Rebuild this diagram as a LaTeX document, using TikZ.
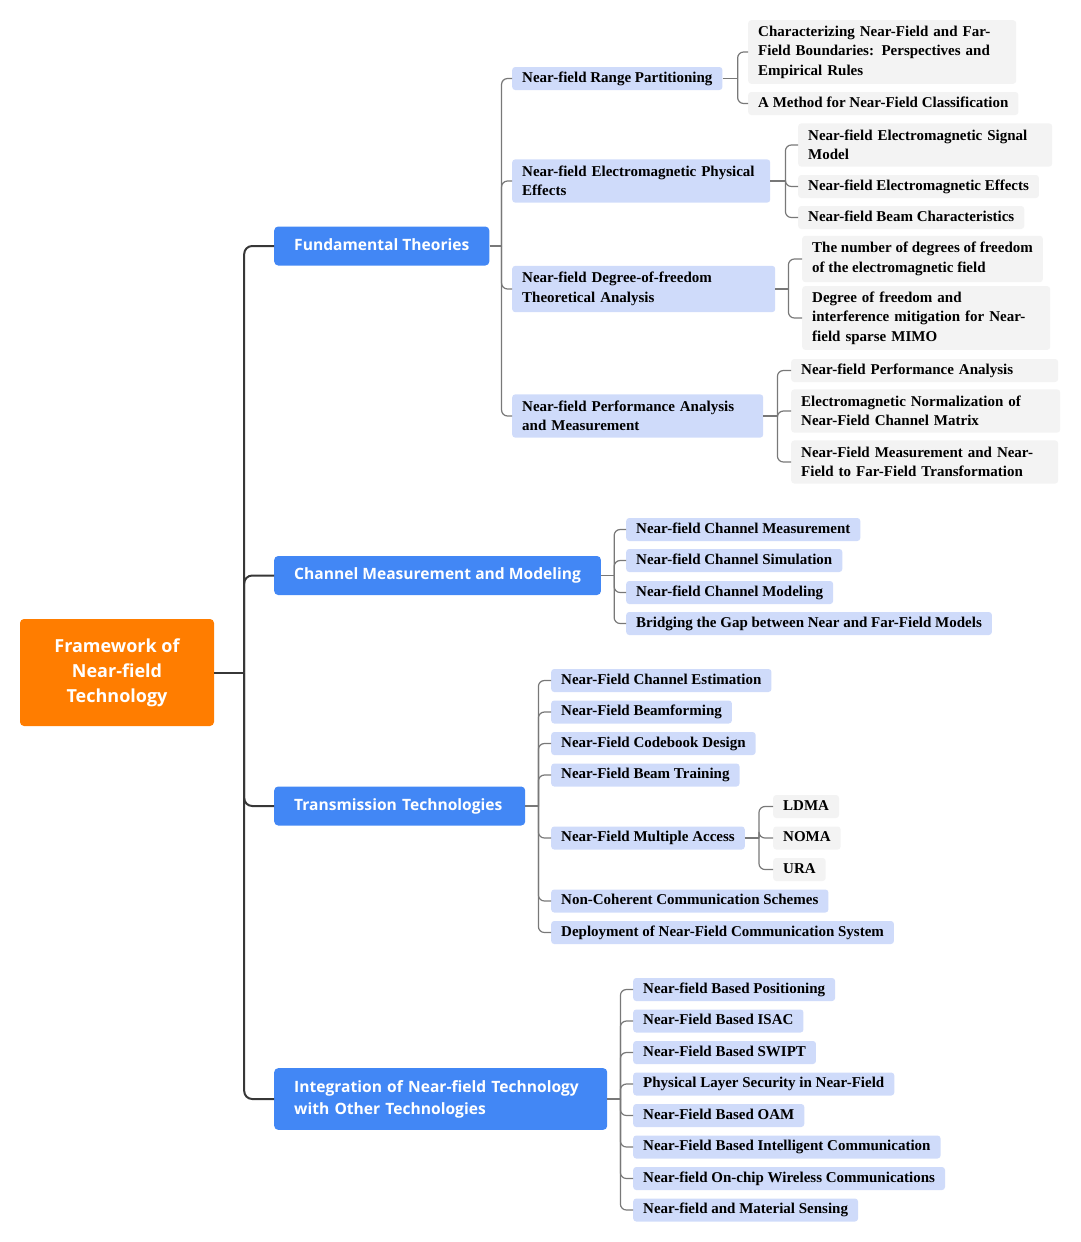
\documentclass[tikz,border=0pt]{standalone}
\usepackage{fontspec}
\setmainfont{Liberation Serif}
\newfontfamily\headfont{Open Sans}
\definecolor{orng}{RGB}{255,125,0}
\definecolor{blu}{RGB}{66,135,245}
\definecolor{lblu}{RGB}{207,219,250}
\definecolor{lgray}{RGB}{243,243,243}
\definecolor{dline}{RGB}{55,55,55}
\definecolor{mline}{RGB}{120,120,120}
\tikzset{
 rootbox/.style={fill=orng, text=white, font=\headfont\bfseries\fontsize{18}{25}\selectfont, rounded corners=4pt, minimum width=194pt, minimum height=107pt, align=center, inner sep=0pt},
 lone/.style={fill=blu, text=white, font=\headfont\bfseries\fontsize{15.6}{22}\selectfont, rounded corners=4pt, anchor=west, inner xsep=20pt, inner ysep=12pt, align=left},
 onehead/.style={text height=11.5pt, text depth=3.5pt},
 ltwo/.style={fill=lblu, font=\bfseries\fontsize{15}{19.5}\selectfont, rounded corners=3pt, anchor=west, inner xsep=10pt, inner ysep=6.5pt, align=left},
 lthree/.style={ltwo, fill=lgray},
 one/.style={text height=10.5pt, text depth=3.5pt, inner ysep=4.5pt},
 rootlk/.style={draw=dline, line width=2pt, rounded corners=8pt},
 lk/.style={draw=mline, line width=1.2pt, rounded corners=6pt},
}
\begin{document}
\begin{tikzpicture}[x=1pt,y=-1pt]
\useasboundingbox (0,0) rectangle (1080,1242);
% root
\node[rootbox] (r) at (117,672.5) {Framework of\\Near-field\\Technology};
% level 1
\node[lone,onehead] (fa) at (274,246) {Fundamental Theories};
\node[lone,onehead] (fb) at (274,575.5) {Channel Measurement and Modeling};
\node[lone,onehead,text width=211pt] (fc) at (274,806) {Transmission Technologies};
\node[lone,text width=293pt] (fd) at (274,1099) {Integration of Near-field Technology\\with Other Technologies};
% Fundamental theories children
\node[ltwo,one] (a1) at (512,78.5) {Near-field Range Partitioning};
\node[ltwo,text width=238pt] (a2) at (512,181) {Near-field Electromagnetic Physical\\Effects};
\node[ltwo,text width=243pt] (a3) at (512,289) {Near-field Degree-of-freedom\\Theoretical Analysis};
\node[ltwo,text width=231pt] (a4) at (512,416) {Near-field Performance Analysis\\and Measurement};
% level 3
\node[lthree,text width=248pt,inner ysep=5.5pt] (a11) at (748,52) {Characterizing Near-Field and Far-\\Field Boundaries: Perspectives and\\Empirical Rules};
\node[lthree,one] (a12) at (748,103.5) {A Method for Near-Field Classification};
\node[lthree,text width=234pt] (a21) at (798,145) {Near-field Electromagnetic Signal\\Model};
\node[lthree,one] (a22) at (798,186.5) {Near-field Electromagnetic Effects};
\node[lthree,one] (a23) at (798,217.5) {Near-field Beam Characteristics};
\node[lthree] (a31) at (802,259) {The number of degrees of freedom\\of the electromagnetic field};
\node[lthree,text width=228pt,inner ysep=5.5pt] (a32) at (802,318) {Degree of freedom and\\interference mitigation for Near-\\field sparse MIMO};
\node[lthree,one,text width=247pt] (a41) at (791,370.5) {Near-field Performance Analysis};
\node[lthree,text width=249pt] (a42) at (791,411) {Electromagnetic Normalization of\\Near-Field Channel Matrix};
\node[lthree,text width=247pt] (a43) at (791,462) {Near-Field Measurement and Near-\\Field to Far-Field Transformation};
% Channel measurement children
\node[ltwo,one] (b1) at (626,529.5) {Near-field Channel Measurement};
\node[ltwo,one] (b2) at (626,560.5) {Near-field Channel Simulation};
\node[ltwo,one] (b3) at (626,592.5) {Near-field Channel Modeling};
\node[ltwo,one] (b4) at (626,623.5) {Bridging the Gap between Near and Far-Field Models};
% Transmission children
\node[ltwo,one] (c1) at (551,680.5) {Near-Field Channel Estimation};
\node[ltwo,one] (c2) at (551,712) {Near-Field Beamforming};
\node[ltwo,one] (c3) at (551,743.5) {Near-Field Codebook Design};
\node[ltwo,one] (c4) at (551,775) {Near-Field Beam Training};
\node[ltwo,one] (c5) at (551,838) {Near-Field Multiple Access};
\node[ltwo,one] (c6) at (551,901) {Non-Coherent Communication Schemes};
\node[ltwo,one] (c7) at (551,932.5) {Deployment of Near-Field Communication System};
\node[lthree,one] (c51) at (773,806.5) {LDMA};
\node[lthree,one] (c52) at (773,838) {NOMA};
\node[lthree,one] (c53) at (773,869.5) {URA};
% Integration children
\node[ltwo,one] (d1) at (633,989.5) {Near-field Based Positioning};
\node[ltwo,one] (d2) at (633,1021) {Near-Field Based ISAC};
\node[ltwo,one] (d3) at (633,1052.5) {Near-Field Based SWIPT};
\node[ltwo,one] (d4) at (633,1084) {Physical Layer Security in Near-Field};
\node[ltwo,one] (d5) at (633,1115.5) {Near-Field Based OAM};
\node[ltwo,one] (d6) at (633,1147) {Near-Field Based Intelligent Communication};
\node[ltwo,one] (d7) at (633,1178.5) {Near-field On-chip Wireless Communications};
\node[ltwo,one] (d8) at (633,1210) {Near-field and Material Sensing};
% connectors
\draw[rootlk] (r.east) -- ++(30,0) coordinate (rj);
\foreach \n in {fa,fb,fc,fd} \draw[rootlk] (rj) |- (\n.west);
\draw[lk] (fa.east) -- ++(12,0) coordinate (faj);
\foreach \n in {a1,a2,a3,a4} \draw[lk] (faj) |- (\n.west);
\draw[lk] (a1.east) -- ++(15,0) coordinate (a1j);
\foreach \n in {a11,a12} \draw[lk] (a1j) |- (\n.west);
\draw[lk] (a2.east) -- ++(15,0) coordinate (a2j);
\foreach \n in {a21,a22,a23} \draw[lk] (a2j) |- (\n.west);
\draw[lk] (a3.east) -- ++(13,0) coordinate (a3j);
\foreach \n in {a31,a32} \draw[lk] (a3j) |- (\n.west);
\draw[lk] (a4.east) -- ++(14,0) coordinate (a4j);
\foreach \n in {a41,a42,a43} \draw[lk] (a4j) |- (\n.west);
\draw[lk] (fb.east) -- ++(13,0) coordinate (fbj);
\foreach \n in {b1,b2,b3,b4} \draw[lk] (fbj) |- (\n.west);
\draw[lk] (fc.east) -- ++(13,0) coordinate (fcj);
\foreach \n in {c1,c2,c3,c4,c5,c6,c7} \draw[lk] (fcj) |- (\n.west);
\draw[lk] (c5.east) -- ++(14,0) coordinate (c5j);
\foreach \n in {c51,c52,c53} \draw[lk] (c5j) |- (\n.west);
\draw[lk] (fd.east) -- ++(13,0) coordinate (fdj);
\foreach \n in {d1,d2,d3,d4,d5,d6,d7,d8} \draw[lk] (fdj) |- (\n.west);
\end{tikzpicture}
\end{document}
